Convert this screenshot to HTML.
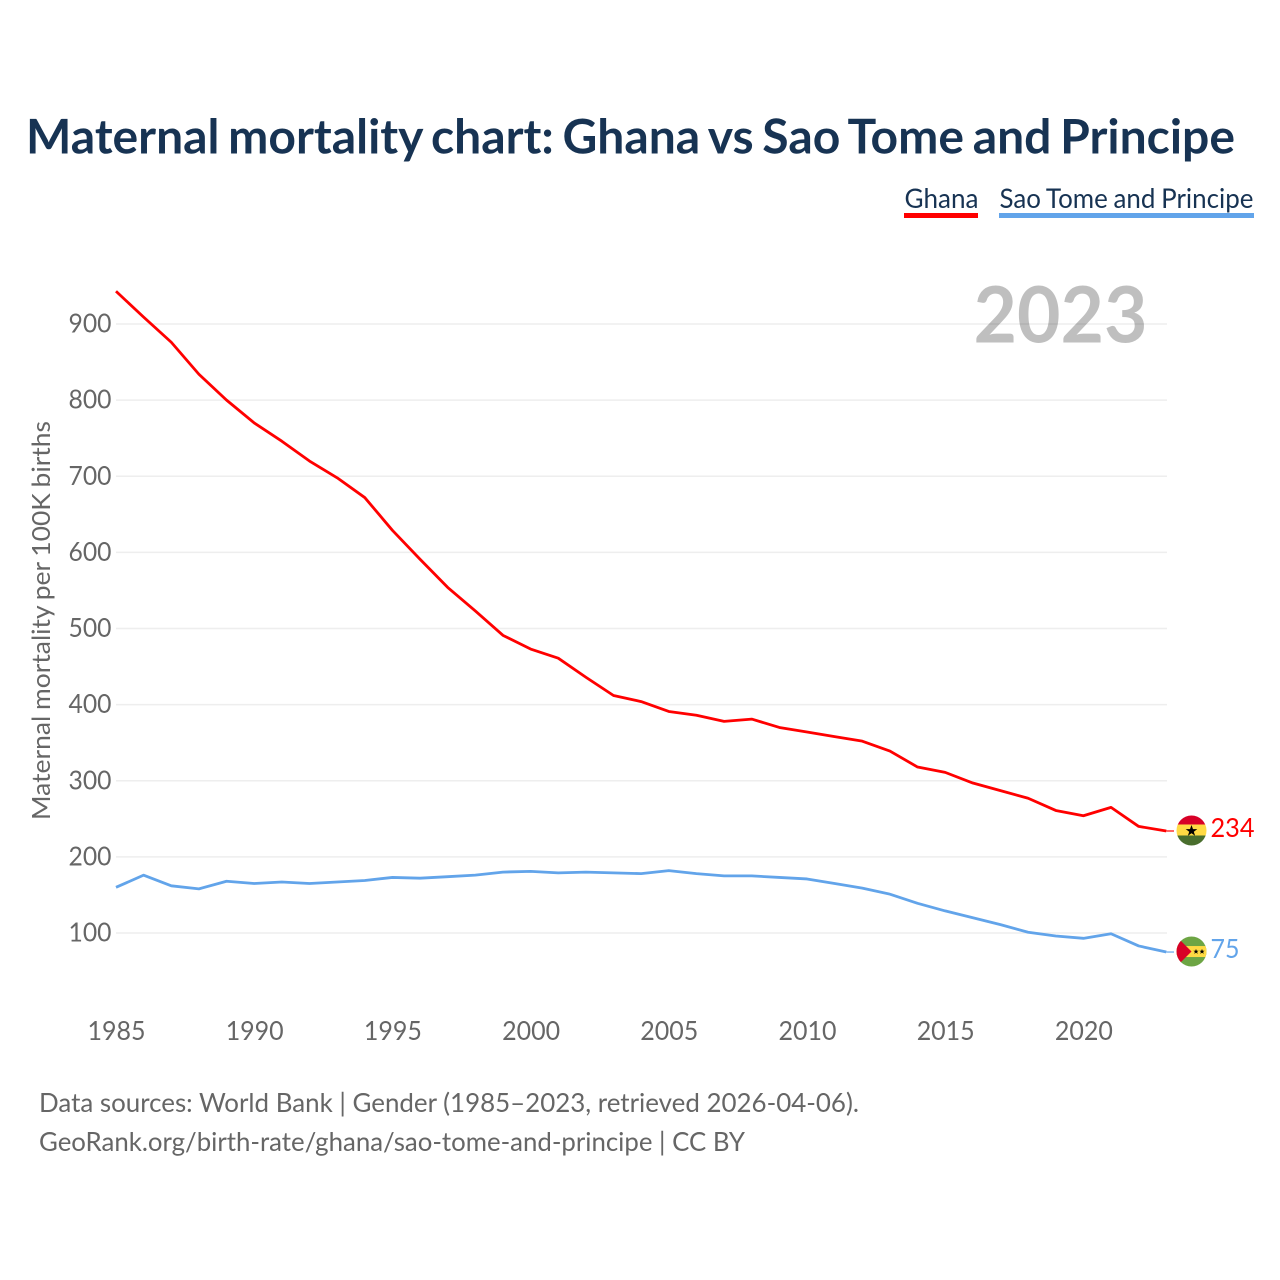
<!DOCTYPE html>
<html lang="en">
<head>
<meta charset="utf-8">
<title>Maternal mortality chart: Ghana vs Sao Tome and Principe</title>
<style>
html,body{margin:0;padding:0;background:#fff;}
svg{display:block;}
text{font-family:"Lato","Carlito","Liberation Sans",sans-serif;}
</style>
</head>
<body>
<svg id="chart" xmlns="http://www.w3.org/2000/svg" width="1280" height="1280" viewBox="0 0 1280 1280">
  <rect x="0" y="0" width="1280" height="1280" fill="#ffffff"/>
  <text x="26" y="153.5" font-size="48" font-weight="700" fill="#173353" word-spacing="-3" textLength="1209" lengthAdjust="spacingAndGlyphs">Maternal mortality chart: Ghana vs Sao Tome and Principe</text>

  <g>
    <g>
      <text x="904.5" y="208" font-size="27.5" fill="#173353" textLength="74" lengthAdjust="spacingAndGlyphs">Ghana</text>
      <rect x="904" y="213" width="74" height="5" fill="#ff0000"/>
    </g>
    <g>
      <text x="999.5" y="208" font-size="27.5" fill="#173353" word-spacing="-1" textLength="254" lengthAdjust="spacingAndGlyphs">Sao Tome and Principe</text>
      <rect x="999" y="213" width="255" height="5" fill="#62a4ea"/>
    </g>
  </g>

  <g id="grid"></g>
  <g id="yTicks"></g>
  <g id="xTicks"></g>

  <text transform="translate(50,820) rotate(-90)" x="0" y="0" font-size="25.5" fill="#666666" word-spacing="-1" textLength="399" lengthAdjust="spacingAndGlyphs">Maternal mortality per 100K births</text>

  <text x="973.5" y="342.7" font-size="78" font-weight="700" fill="#000000" fill-opacity="0.25" textLength="174" lengthAdjust="spacingAndGlyphs">2023</text>

  <g id="series"></g>

  <defs>
    <clipPath id="flagClip"><circle cx="0" cy="0" r="15"/></clipPath>
  </defs>

  <g id="flagGhana">
    <g clip-path="url(#flagClip)">
      <rect x="-15" y="-15" width="30" height="9" fill="#d80027"/>
      <rect x="-15" y="-6" width="30" height="11" fill="#ffda44"/>
      <rect x="-15" y="5" width="30" height="10" fill="#496e2d"/>
      <polygon points="0,-5.5 1.5,-1.4 5.8,-1.4 2.3,1.2 3.6,5.2 0,2.7 -3.6,5.2 -2.3,1.2 -5.8,-1.4 -1.5,-1.4" fill="#000000"/>
    </g>
  </g>

  <g id="flagStp">
    <g clip-path="url(#flagClip)">
      <rect x="-15" y="-15" width="30" height="30" fill="#6da544"/>
      <rect x="-15" y="-5.5" width="30" height="11" fill="#ffda44"/>
      <polygon points="-15,-15 -11,-11 0,0 -11,11 -15,15" fill="#d80027"/>
      <polygon points="4.5,-2.6 5.2,-0.8 7.1,-0.8 5.6,0.4 6.2,2.3 4.5,1.1 2.8,2.3 3.4,0.4 1.9,-0.8 3.8,-0.8" fill="#000000"/>
      <polygon points="10.5,-2.6 11.2,-0.8 13.1,-0.8 11.6,0.4 12.2,2.3 10.5,1.1 8.8,2.3 9.4,0.4 7.9,-0.8 9.8,-0.8" fill="#000000"/>
    </g>
  </g>

  <g>
    <text x="39" y="1112" font-size="26.5" fill="#666666" textLength="820" lengthAdjust="spacingAndGlyphs">Data sources: World Bank | Gender (1985–2023, retrieved 2026-04-06).</text>
    <text x="39" y="1151" font-size="26.5" fill="#666666" textLength="706" lengthAdjust="spacingAndGlyphs">GeoRank.org/birth-rate/ghana/sao-tome-and-principe | CC BY</text>
  </g>
</svg>

<script>
var years = [1985,1986,1987,1988,1989,1990,1991,1992,1993,1994,1995,1996,1997,1998,1999,2000,2001,2002,2003,2004,2005,2006,2007,2008,2009,2010,2011,2012,2013,2014,2015,2016,2017,2018,2019,2020,2021,2022,2023];
var ghanaValues = [943,909,876,834,800,770,746,720,698,672,629,591,554,523,491,473,461,436,412,404,391,386,378,381,370,364,358,352,339,318,311,297,287,277,261,254,265,240,234];
var saoTomeValues = [160,176,162,158,168,165,167,165,167,169,173,172,174,176,180,181,179,180,179,178,182,178,175,175,173,171,165,159,151,139,129,120,111,101,96,93,99,83,75];
var yTickValues = [100,200,300,400,500,600,700,800,900];
var xTickValues = [1985,1990,1995,2000,2005,2010,2015,2020];

var SVG_NS = 'http://www.w3.org/2000/svg';
function xScale(year){ return 116 + (year - 1985) * 27.64; }
function yScale(value){ return 933 - (value - 100) * 0.76125; }
function make(tag, parentId){
  var el = document.createElementNS(SVG_NS, tag);
  document.getElementById(parentId).appendChild(el);
  return el;
}

yTickValues.forEach(function(v){
  var line = make('line', 'grid');
  
  
  line.setAttribute('x1', 116);
  line.setAttribute('x2', 1167);
  line.setAttribute('y1', yScale(v));
  line.setAttribute('y2', yScale(v));
  line.setAttribute('stroke', '#eeeeee');
  line.setAttribute('stroke-width', 1.5);

  var label = make('text', 'yTicks');
  
  
  label.setAttribute('x', 68.5);
  label.setAttribute('y', yScale(v) + 8.5);
  label.setAttribute('font-size', 26);
  label.setAttribute('fill', '#666666');
  label.setAttribute('textLength', 43);
  label.setAttribute('lengthAdjust', 'spacingAndGlyphs');
  label.textContent = String(v);
});

xTickValues.forEach(function(y){
  var label = make('text', 'xTicks');
  
  
  label.setAttribute('x', xScale(y) - 28.5);
  label.setAttribute('y', 1040);
  label.setAttribute('font-size', 26);
  label.setAttribute('fill', '#666666');
  label.setAttribute('textLength', 58);
  label.setAttribute('lengthAdjust', 'spacingAndGlyphs');
  label.textContent = String(y);
});

function pathFor(values){
  return values.map(function(v, i){
    return (i ? 'L' : 'M') + xScale(years[i]).toFixed(2) + ' ' + yScale(v).toFixed(2);
  }).join(' ');
}

var ghanaLine = make('path', 'series');


ghanaLine.setAttribute('d', pathFor(ghanaValues));
ghanaLine.setAttribute('fill', 'none');
ghanaLine.setAttribute('stroke', '#ff0000');
ghanaLine.setAttribute('stroke-width', 2.8);
ghanaLine.setAttribute('stroke-linejoin', 'round');

var saoTomeLine = make('path', 'series');


saoTomeLine.setAttribute('d', pathFor(saoTomeValues));
saoTomeLine.setAttribute('fill', 'none');
saoTomeLine.setAttribute('stroke', '#62a4ea');
saoTomeLine.setAttribute('stroke-width', 2.8);
saoTomeLine.setAttribute('stroke-linejoin', 'round');

var lastYear = years[years.length - 1];
var ghanaLast = ghanaValues[ghanaValues.length - 1];
var saoTomeLast = saoTomeValues[saoTomeValues.length - 1];

var ghanaConnector = make('line', 'series');


ghanaConnector.setAttribute('x1', xScale(lastYear));
ghanaConnector.setAttribute('x2', 1174);
ghanaConnector.setAttribute('y1', yScale(ghanaLast));
ghanaConnector.setAttribute('y2', yScale(ghanaLast));
ghanaConnector.setAttribute('stroke', '#ff0000');
ghanaConnector.setAttribute('stroke-width', 1.2);

var saoTomeConnector = make('line', 'series');


saoTomeConnector.setAttribute('x1', xScale(lastYear));
saoTomeConnector.setAttribute('x2', 1174);
saoTomeConnector.setAttribute('y1', yScale(saoTomeLast));
saoTomeConnector.setAttribute('y2', yScale(saoTomeLast));
saoTomeConnector.setAttribute('stroke', '#62a4ea');
saoTomeConnector.setAttribute('stroke-width', 1.2);

document.getElementById('flagGhana').setAttribute('transform', 'translate(1191.5,' + (yScale(ghanaLast) - 0.5) + ')');
document.getElementById('flagStp').setAttribute('transform', 'translate(1191.5,' + (yScale(saoTomeLast) - 0.5) + ')');

var ghanaValueLabel = make('text', 'series');


ghanaValueLabel.setAttribute('x', 1210.5);
ghanaValueLabel.setAttribute('y', yScale(ghanaLast) + 6);
ghanaValueLabel.setAttribute('font-size', 26);
ghanaValueLabel.setAttribute('fill', '#ff0000');
ghanaValueLabel.setAttribute('textLength', 44);
ghanaValueLabel.setAttribute('lengthAdjust', 'spacingAndGlyphs');
ghanaValueLabel.textContent = String(ghanaLast);

var saoTomeValueLabel = make('text', 'series');


saoTomeValueLabel.setAttribute('x', 1210.5);
saoTomeValueLabel.setAttribute('y', yScale(saoTomeLast) + 6);
saoTomeValueLabel.setAttribute('font-size', 26);
saoTomeValueLabel.setAttribute('fill', '#62a4ea');
saoTomeValueLabel.setAttribute('textLength', 29);
saoTomeValueLabel.setAttribute('lengthAdjust', 'spacingAndGlyphs');
saoTomeValueLabel.textContent = String(saoTomeLast);
</script>
</body>
</html>
